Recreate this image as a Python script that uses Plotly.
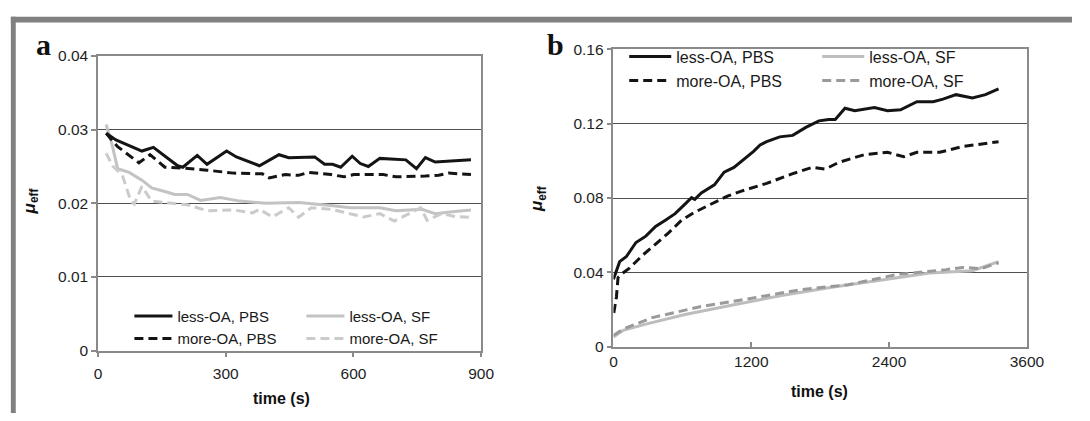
import plotly.graph_objects as go

W, H = 1090, 421

# ---------------- Panel a data (time in s, effective friction) ----------------
a_less_pbs_t = [19, 42, 103, 130, 187, 199, 233, 256, 302, 325, 379, 425, 448, 509, 532,
                551, 570, 597, 616, 635, 662, 723, 748, 769, 792, 876]
a_less_pbs_mu = [0.0295, 0.0286, 0.0271, 0.0276, 0.0251, 0.0249, 0.0265, 0.0253, 0.0271, 0.0263,
                 0.0251, 0.0266, 0.0262, 0.0263, 0.0253, 0.0253, 0.0249, 0.0264, 0.0254, 0.0250,
                 0.0261, 0.0259, 0.0247, 0.0262, 0.0256, 0.0259]

a_more_pbs_t = [19, 46, 96, 122, 157, 195, 256, 318, 386, 402, 440, 471, 494, 547, 578, 601,
                670, 700, 769, 800, 823, 876]
a_more_pbs_mu = [0.0295, 0.0277, 0.0255, 0.0266, 0.0249, 0.0248, 0.0245, 0.0241, 0.0240, 0.02345,
                 0.0239, 0.0238, 0.0242, 0.0239, 0.0236, 0.0239, 0.0239, 0.0236, 0.0237, 0.0238,
                 0.0241, 0.0239]

a_less_sf_t = [19, 34, 46, 73, 103, 126, 157, 180, 210, 241, 287, 333, 394, 471, 547, 593,
               662, 700, 761, 792, 838, 876]
a_less_sf_mu = [0.0307, 0.0277, 0.0247, 0.0242, 0.02315, 0.0221, 0.0216, 0.0212, 0.0212, 0.0204,
                0.0208, 0.0203, 0.0200, 0.0201, 0.0197, 0.0194, 0.0194, 0.0190, 0.0192, 0.0186,
                0.0189, 0.0191]

a_more_sf_t = [19, 34, 57, 77, 85, 103, 126, 165, 210, 256, 318, 363, 379, 409, 448, 471, 501,
               547, 578, 624, 662, 696, 731, 758, 773, 807, 838, 876]
a_more_sf_mu = [0.0268, 0.0251, 0.0238, 0.0203, 0.0199, 0.0223, 0.0203, 0.0201, 0.0198, 0.0190,
                0.0191, 0.0187, 0.0192, 0.01815, 0.0194, 0.0181, 0.0194, 0.0192, 0.0188, 0.01815,
                0.0186, 0.0176, 0.0186, 0.0194, 0.0177, 0.0186, 0.0182, 0.0181]

# ---------------- Panel b data ----------------
b_less_pbs_t = [0, 26, 54, 111, 196, 282, 367, 452, 537, 623, 680, 708, 765, 879, 964, 1049,
                1135, 1220, 1277, 1334, 1448, 1561, 1675, 1789, 1874, 1931, 2016, 2101, 2272,
                2386, 2500, 2642, 2784, 2869, 2983, 3125, 3239, 3353]
b_less_pbs_mu = [0.0363, 0.0406, 0.0458, 0.0484, 0.0561, 0.0595, 0.0647, 0.0681, 0.0716, 0.0767,
                 0.0802, 0.0793, 0.0827, 0.0871, 0.0939, 0.0965, 0.1008, 0.1051, 0.1086, 0.1103,
                 0.1129, 0.1137, 0.1180, 0.1215, 0.1223, 0.1223, 0.1283, 0.1270, 0.1287, 0.1270,
                 0.1275, 0.1318, 0.1318, 0.1332, 0.1356, 0.1338, 0.1356, 0.1387]

b_more_pbs_t = [3, 26, 40, 83, 139, 253, 367, 480, 594, 708, 822, 992, 1107, 1334, 1561, 1732,
                1845, 1959, 2187, 2386, 2528, 2642, 2841, 3040, 3353]
b_more_pbs_mu = [0.0182, 0.0268, 0.0372, 0.0397, 0.0423, 0.0492, 0.0552, 0.0613, 0.0681, 0.0724,
                 0.0759, 0.0810, 0.0836, 0.0879, 0.0931, 0.0965, 0.0956, 0.0991, 0.1034, 0.1046,
                 0.1022, 0.1046, 0.1046, 0.1077, 0.1103]

b_less_sf_t = [0, 83, 282, 623, 1049, 1476, 1902, 2329, 2755, 3125, 3353]
b_less_sf_mu = [0.0053, 0.0088, 0.0122, 0.0174, 0.0226, 0.0277, 0.0320, 0.0358, 0.0397, 0.0409,
                0.0458]

b_more_sf_t = [0, 83, 339, 765, 1192, 1618, 2045, 2471, 2898, 3040, 3200, 3353]
b_more_sf_mu = [0.0061, 0.0095, 0.0157, 0.0217, 0.0260, 0.0306, 0.0334, 0.0389, 0.0415, 0.0427,
                0.0420, 0.0452]

names = ["less-OA, PBS", "more-OA, PBS", "less-OA, SF", "more-OA, SF"]

a_ticks_x = [0, 300, 600, 900]
a_ticks_y = [0, 0.01, 0.02, 0.03, 0.04]
a_ticks_y_text = ["0", "0.01", "0.02", "0.03", "0.04"]
b_ticks_x = [0, 1200, 2400, 3600]
b_ticks_y = [0, 0.04, 0.08, 0.12, 0.16]
b_ticks_y_text = ["0", "0.04", "0.08", "0.12", "0.16"]

# ---------------- styling ----------------
BLACK = "#141414"
A_GRAY_SOLID = "#c3c3c3"
A_GRAY_DASH = "#cbcbcb"
B_GRAY_SOLID = "#bdbdbd"
B_GRAY_DASH = "#9a9a9a"
DASH = "9px,5px"
FONT = "Liberation Sans, Arial, sans-serif"
FRAME = "#8a8a8a"
GRID = "#505050"


def px(x):
    return x / W


def py(y):
    return 1 - y / H


fig = go.Figure()

# (t, mu, name, colour, dash, xaxis, yaxis, legend, group, rank)
specs = [
    (a_less_sf_t, a_less_sf_mu, names[2], A_GRAY_SOLID, "solid", "x", "y", "legend", "SF", 3),
    (a_more_sf_t, a_more_sf_mu, names[3], A_GRAY_DASH, DASH, "x", "y", "legend", "SF", 4),
    (a_less_pbs_t, a_less_pbs_mu, names[0], BLACK, "solid", "x", "y", "legend", "PBS", 1),
    (a_more_pbs_t, a_more_pbs_mu, names[1], BLACK, DASH, "x", "y", "legend", "PBS", 2),
    (b_less_sf_t, b_less_sf_mu, names[2], B_GRAY_SOLID, "solid", "x2", "y2", "legend2", "SF", 3),
    (b_more_sf_t, b_more_sf_mu, names[3], B_GRAY_DASH, DASH, "x2", "y2", "legend2", "SF", 4),
    (b_less_pbs_t, b_less_pbs_mu, names[0], BLACK, "solid", "x2", "y2", "legend2", "PBS", 1),
    (b_more_pbs_t, b_more_pbs_mu, names[1], BLACK, DASH, "x2", "y2", "legend2", "PBS", 2),
]
for t, mu, nm, col, dash, xa, ya, lg, grp, rank in specs:
    fig.add_trace(go.Scatter(
        x=t, y=mu, name=nm, mode="lines", xaxis=xa, yaxis=ya, legend=lg,
        legendgroup=grp + lg, legendrank=rank,
        line=dict(color=col, width=3, dash=dash), hoverinfo="skip",
    ))


def legend_cfg(x0, ytop, itemw, entryw, fsize):
    return dict(
        orientation="h", x=px(x0), xanchor="left", y=py(ytop), yanchor="top",
        traceorder="grouped", bgcolor="rgba(0,0,0,0)", borderwidth=0, itemwidth=itemw,
        entrywidth=entryw, entrywidthmode="pixels", tracegroupgap=0,
        font=dict(family=FONT, size=fsize, color="#1a1a1a"), itemclick=False,
        itemdoubleclick=False,
    )


axis_common = dict(
    showline=True, linecolor=FRAME, linewidth=1.5, mirror=True, zeroline=False,
    tickfont=dict(family=FONT, size=15.5, color="#1e1e1e"), tickcolor=FRAME,
    ticklen=5, tickwidth=1.5,
)

fig.update_layout(
    width=W, height=H, margin=dict(l=0, r=0, t=0, b=0),
    paper_bgcolor="white", plot_bgcolor="white", showlegend=True,
    xaxis=dict(domain=[px(96), px(487)], range=[0, 900], tickvals=a_ticks_x,
               ticks="outside", showgrid=False, anchor="y", ticklabelstandoff=3,
               **axis_common),
    yaxis=dict(domain=[py(356), py(49)], range=[0, 0.04], tickvals=a_ticks_y,
               ticktext=a_ticks_y_text,
               ticks="outside", showgrid=True, gridcolor=GRID, gridwidth=1, anchor="x",
               **axis_common),
    xaxis2=dict(domain=[px(622), px(1044)], range=[0, 3600], tickvals=b_ticks_x,
                ticks="inside", showgrid=False, anchor="y2", ticklabelstandoff=0,
                **axis_common),
    yaxis2=dict(domain=[py(352), py(42)], range=[0, 0.16], tickvals=b_ticks_y,
                ticktext=b_ticks_y_text,
                ticks="outside", showgrid=True, gridcolor=GRID, gridwidth=1, anchor="x2",
                **axis_common),
    legend=legend_cfg(128, 303, 38, 119, 15),
    legend2=legend_cfg(633, 32, 42, 136, 16),
)

# gray figure border (top and left bands)
fig.add_shape(type="rect", xref="paper", yref="paper", x0=px(7), x1=1, y0=py(14), y1=py(8),
              fillcolor="#808080", line=dict(width=0), layer="above")
fig.add_shape(type="rect", xref="paper", yref="paper", x0=px(7), x1=px(12), y0=0, y1=py(8),
              fillcolor="#808080", line=dict(width=0), layer="above")

annos = [
    dict(text="<b>a</b>", x=px(31), y=py(37), xanchor="left", yanchor="middle",
         font=dict(family="Liberation Serif, Times New Roman, serif", size=30, color="#111")),
    dict(text="<b>b</b>", x=px(552), y=py(37), xanchor="left", yanchor="middle",
         font=dict(family="Liberation Serif, Times New Roman, serif", size=30, color="#111")),
    dict(text="<b><i>μ</i></b><sub><b>eff</b></sub>", x=px(27), y=py(200), textangle=-90,
         xanchor="center", yanchor="middle",
         font=dict(family=FONT, size=17, color="#111")),
    dict(text="<b><i>μ</i></b><sub><b>eff</b></sub>", x=px(545), y=py(198), textangle=-90,
         xanchor="center", yanchor="middle",
         font=dict(family=FONT, size=17, color="#111")),
    dict(text="<b>time (s)</b>", x=px(283), y=py(406), xanchor="center", yanchor="middle",
         font=dict(family=FONT, size=16, color="#111")),
    dict(text="<b>time (s)</b>", x=px(832), y=py(399), xanchor="center", yanchor="middle",
         font=dict(family=FONT, size=16, color="#111")),
]
for a in annos:
    fig.add_annotation(xref="paper", yref="paper", showarrow=False, **a)

fig.write_html("out.html")
